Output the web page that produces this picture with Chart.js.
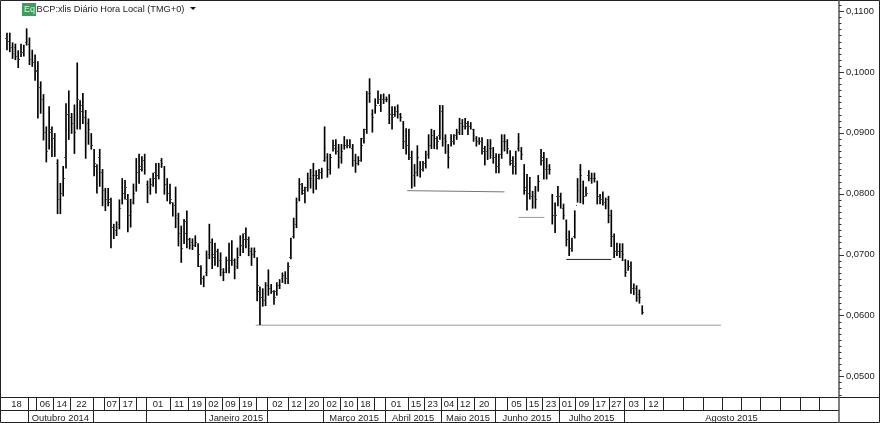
<!DOCTYPE html>
<html>
<head>
<meta charset="utf-8">
<title>BCP:xlis</title>
<script src="https://cdn.jsdelivr.net/npm/chart.js@4"></script>
<style>
    html, body { margin: 0; padding: 0; background: #fff; }
    #wrap { width: 880px; height: 423px; }
</style>
</head>
<body>
<div id="wrap"><canvas id="priceChart" width="880" height="423"></canvas></div>
<script>
// Valores, barra a barra
const highs = [
    0.1064,0.1064,0.1048,0.1046,0.1035,0.1046,0.1044,0.1071,0.1056,0.1036,
    0.1028,0.1017,0.0984,0.0963,0.0910,0.0943,0.0910,0.0899,0.0856,0.0817,
    0.0845,0.0948,0.0969,0.0932,0.0946,0.1015,0.0953,0.0965,0.0937,0.0923,
    0.0899,0.0873,0.0848,0.0873,0.0840,0.0809,0.0809,0.0793,0.0750,0.0754,
    0.0790,0.0825,0.0822,0.0799,0.0791,0.0816,0.0858,0.0865,0.0861,0.0865,
    0.0821,0.0825,0.0834,0.0850,0.0850,0.0858,0.0845,0.0825,0.0816,0.0785,
    0.0811,0.0768,0.0747,0.0758,0.0772,0.0727,0.0726,0.0731,0.0718,0.0682,
    0.0665,0.0706,0.0750,0.0726,0.0719,0.0709,0.0703,0.0677,0.0696,0.0719,
    0.0723,0.0693,0.0711,0.0731,0.0734,0.0744,0.0729,0.0711,0.0711,0.0695,
    0.0647,0.0644,0.0654,0.0675,0.0651,0.0641,0.0654,0.0659,0.0670,0.0672,
    0.0687,0.0727,0.0760,0.0793,0.0825,0.0817,0.0811,0.0834,0.0840,0.0850,
    0.0838,0.0840,0.0842,0.0910,0.0866,0.0865,0.0888,0.0889,0.0881,0.0881,
    0.0894,0.0889,0.0889,0.0881,0.0865,0.0861,0.0891,0.0906,0.0968,0.0989,
    0.0938,0.0956,0.0969,0.0963,0.0964,0.0959,0.0963,0.0943,0.0943,0.0946,
    0.0932,0.0919,0.0907,0.0906,0.0870,0.0848,0.0879,0.0853,0.0853,0.0870,
    0.0897,0.0906,0.0904,0.0894,0.0945,0.0945,0.0897,0.0881,0.0897,0.0897,
    0.0906,0.0924,0.0922,0.0924,0.0919,0.0917,0.0906,0.0894,0.0892,0.0892,
    0.0878,0.0889,0.0889,0.0876,0.0866,0.0865,0.0897,0.0897,0.0889,0.0871,
    0.0861,0.0870,0.0899,0.0876,0.0848,0.0832,0.0827,0.0804,0.0812,0.0830,
    0.0873,0.0868,0.0858,0.0848,0.0799,0.0785,0.0812,0.0801,0.0783,0.0757,
    0.0739,0.0727,0.0772,0.0825,0.0848,0.0821,0.0811,0.0838,0.0834,0.0834,
    0.0821,0.0799,0.0803,0.0793,0.0796,0.0773,0.0734,0.0719,0.0718,0.0718,
    0.0692,0.0690,0.0688,0.0652,0.0649,0.0642,0.0616
];
const lows = [
    0.1036,0.1033,0.1022,0.1020,0.1007,0.1025,0.1026,0.1044,0.1012,0.1009,
    0.0986,0.0924,0.0932,0.0888,0.0852,0.0873,0.0861,0.0861,0.0767,0.0767,
    0.0796,0.0842,0.0889,0.0899,0.0866,0.0906,0.0906,0.0915,0.0858,0.0881,
    0.0873,0.0829,0.0801,0.0812,0.0780,0.0772,0.0780,0.0711,0.0726,0.0731,
    0.0742,0.0783,0.0791,0.0737,0.0745,0.0783,0.0804,0.0817,0.0837,0.0832,
    0.0785,0.0799,0.0812,0.0801,0.0824,0.0843,0.0799,0.0788,0.0783,0.0763,
    0.0744,0.0714,0.0687,0.0718,0.0711,0.0709,0.0708,0.0713,0.0680,0.0651,
    0.0647,0.0665,0.0693,0.0677,0.0682,0.0680,0.0665,0.0657,0.0670,0.0670,
    0.0682,0.0660,0.0677,0.0698,0.0703,0.0711,0.0698,0.0682,0.0695,0.0624,
    0.0585,0.0615,0.0616,0.0633,0.0636,0.0618,0.0633,0.0644,0.0654,0.0652,
    0.0652,0.0693,0.0727,0.0744,0.0788,0.0799,0.0785,0.0804,0.0809,0.0801,
    0.0807,0.0824,0.0825,0.0853,0.0827,0.0832,0.0870,0.0865,0.0842,0.0850,
    0.0873,0.0875,0.0875,0.0845,0.0835,0.0847,0.0853,0.0883,0.0899,0.0950,
    0.0901,0.0932,0.0948,0.0935,0.0948,0.0951,0.0915,0.0906,0.0927,0.0924,
    0.0919,0.0874,0.0865,0.0856,0.0809,0.0812,0.0829,0.0827,0.0837,0.0842,
    0.0858,0.0874,0.0874,0.0873,0.0889,0.0878,0.0866,0.0842,0.0878,0.0881,
    0.0889,0.0897,0.0897,0.0906,0.0897,0.0906,0.0886,0.0878,0.0881,0.0865,
    0.0847,0.0856,0.0858,0.0850,0.0834,0.0834,0.0858,0.0870,0.0866,0.0847,
    0.0832,0.0832,0.0870,0.0856,0.0799,0.0773,0.0791,0.0776,0.0776,0.0804,
    0.0847,0.0824,0.0824,0.0832,0.0750,0.0736,0.0780,0.0776,0.0758,0.0714,
    0.0698,0.0705,0.0727,0.0786,0.0785,0.0783,0.0796,0.0821,0.0817,0.0819,
    0.0783,0.0783,0.0781,0.0775,0.0752,0.0713,0.0695,0.0698,0.0695,0.0690,
    0.0664,0.0674,0.0636,0.0634,0.0623,0.0620,0.0602
];
const opens = [
    0.1055,0.1050,0.1040,0.1040,0.1030,0.1030,0.1032,0.1048,0.1045,0.1030,
    0.1020,0.1000,0.0975,0.0955,0.0900,0.0885,0.0900,0.0890,0.0850,0.0790,
    0.0800,0.0860,0.0930,0.0925,0.0915,0.0915,0.0950,0.0945,0.0925,0.0915,
    0.0895,0.0870,0.0845,0.0860,0.0835,0.0805,0.0800,0.0785,0.0745,0.0740,
    0.0750,0.0790,0.0815,0.0790,0.0765,0.0785,0.0810,0.0835,0.0845,0.0855,
    0.0815,0.0805,0.0815,0.0835,0.0830,0.0855,0.0840,0.0815,0.0805,0.0785,
    0.0780,0.0760,0.0735,0.0720,0.0755,0.0725,0.0720,0.0715,0.0715,0.0680,
    0.0660,0.0670,0.0700,0.0720,0.0700,0.0705,0.0690,0.0670,0.0675,0.0680,
    0.0690,0.0690,0.0680,0.0700,0.0715,0.0735,0.0725,0.0705,0.0700,0.0690,
    0.0640,0.0630,0.0625,0.0650,0.0645,0.0635,0.0640,0.0650,0.0660,0.0665,
    0.0660,0.0695,0.0730,0.0750,0.0790,0.0815,0.0800,0.0810,0.0825,0.0830,
    0.0825,0.0830,0.0835,0.0855,0.0860,0.0850,0.0875,0.0880,0.0870,0.0860,
    0.0880,0.0880,0.0880,0.0875,0.0855,0.0850,0.0860,0.0890,0.0905,0.0965,
    0.0930,0.0935,0.0955,0.0945,0.0955,0.0955,0.0950,0.0930,0.0930,0.0935,
    0.0930,0.0915,0.0885,0.0880,0.0860,0.0830,0.0835,0.0850,0.0840,0.0850,
    0.0865,0.0880,0.0895,0.0885,0.0895,0.0935,0.0890,0.0870,0.0880,0.0885,
    0.0895,0.0900,0.0915,0.0910,0.0910,0.0910,0.0905,0.0890,0.0885,0.0885,
    0.0870,0.0870,0.0875,0.0870,0.0855,0.0845,0.0865,0.0885,0.0885,0.0865,
    0.0850,0.0845,0.0875,0.0870,0.0845,0.0805,0.0800,0.0795,0.0795,0.0810,
    0.0865,0.0855,0.0840,0.0840,0.0795,0.0770,0.0795,0.0795,0.0775,0.0755,
    0.0735,0.0710,0.0730,0.0780,0.0840,0.0800,0.0800,0.0830,0.0825,0.0825,
    0.0810,0.0790,0.0790,0.0785,0.0790,0.0765,0.0730,0.0705,0.0705,0.0705,
    0.0690,0.0675,0.0680,0.0645,0.0645,0.0635,0.0610
];
const closes = [
    0.1050,0.1048,0.1030,0.1026,0.1020,0.1032,0.1038,0.1050,0.1020,0.1015,
    0.1002,0.0975,0.0955,0.0900,0.0870,0.0905,0.0885,0.0870,0.0790,0.0800,
    0.0825,0.0925,0.0910,0.0915,0.0900,0.0955,0.0935,0.0925,0.0900,0.0905,
    0.0880,0.0850,0.0825,0.0835,0.0805,0.0790,0.0790,0.0725,0.0735,0.0745,
    0.0775,0.0800,0.0810,0.0760,0.0770,0.0800,0.0835,0.0840,0.0850,0.0840,
    0.0810,0.0815,0.0825,0.0825,0.0845,0.0850,0.0815,0.0800,0.0790,0.0775,
    0.0765,0.0735,0.0710,0.0735,0.0725,0.0715,0.0715,0.0720,0.0700,0.0660,
    0.0660,0.0695,0.0720,0.0695,0.0705,0.0690,0.0675,0.0670,0.0690,0.0690,
    0.0705,0.0675,0.0695,0.0715,0.0725,0.0725,0.0710,0.0700,0.0705,0.0650,
    0.0625,0.0625,0.0650,0.0645,0.0640,0.0630,0.0645,0.0650,0.0665,0.0660,
    0.0680,0.0710,0.0745,0.0785,0.0815,0.0805,0.0800,0.0820,0.0825,0.0830,
    0.0825,0.0830,0.0835,0.0875,0.0840,0.0860,0.0875,0.0880,0.0860,0.0870,
    0.0880,0.0880,0.0880,0.0855,0.0850,0.0855,0.0880,0.0900,0.0950,0.0965,
    0.0925,0.0945,0.0955,0.0945,0.0955,0.0955,0.0930,0.0925,0.0935,0.0935,
    0.0925,0.0885,0.0880,0.0870,0.0815,0.0835,0.0860,0.0840,0.0845,0.0860,
    0.0880,0.0895,0.0890,0.0885,0.0935,0.0890,0.0885,0.0860,0.0885,0.0890,
    0.0900,0.0915,0.0910,0.0915,0.0905,0.0910,0.0895,0.0885,0.0885,0.0875,
    0.0865,0.0880,0.0875,0.0860,0.0845,0.0845,0.0890,0.0885,0.0875,0.0855,
    0.0840,0.0850,0.0885,0.0865,0.0810,0.0800,0.0805,0.0785,0.0790,0.0820,
    0.0860,0.0840,0.0845,0.0840,0.0765,0.0765,0.0800,0.0790,0.0765,0.0725,
    0.0710,0.0725,0.0765,0.0805,0.0830,0.0795,0.0800,0.0830,0.0825,0.0825,
    0.0795,0.0790,0.0790,0.0780,0.0765,0.0730,0.0705,0.0710,0.0705,0.0700,
    0.0670,0.0680,0.0645,0.0645,0.0630,0.0630,0.0605
];

// Linhas de suporte desenhadas no gráfico: [barra, valor]
const supportMain = [[88.5, 0.0584], [254, 0.0584]];
const supportApr = [[142.4, 0.0805], [177, 0.0803]];
const supportJun = [[182, 0.0761], [191.2, 0.0761]];
const supportJul = [[199, 0.0692], [215, 0.0692]];

// Eixo do tempo: início de cada célula (em barras) e respetivo texto
const dayEdges = [-0.7, 7.5, 10.5, 16.5, 22.5, 30.5, 34.5, 40, 46, 49.5, 58, 64.5, 70.5, 76.5, 82.5, 88.5, 92.5, 100, 106, 112.5,
    118.5, 124.5, 130.5, 134.5, 142.5, 148.5, 154.5, 160, 166, 173.5, 178, 184.5, 190.5, 196.5, 202, 208.5, 214, 219.5, 226.5,
    233.5, 240.5, 247.5, 254.5, 261, 268, 275, 282, 289, 296];
const dayLabels = ['18', '', '06', '14', '22', '', '07', '17', '', '01', '11', '19', '02', '09', '19', '', '02', '12', '20',
    '02', '10', '18', '', '01', '15', '23', '04', '12', '20', '', '05', '15', '23', '01', '09', '17', '27', '03', '12',
    '', '', '', '', '', '', '', '', ''];
const monthEdges = [-0.7, 7.5, 30.5, 49.5, 70.5, 92.5, 112.5, 134.5, 154.5, 173.5, 196.5, 219.5, 296];
const monthLabels = ['', 'Outubro 2014', '', '', 'Janeiro 2015', '', 'Março 2015', 'Abril 2015', 'Maio 2015', 'Junho 2015', 'Julho 2015', 'Agosto 2015'];

const axisFont = { family: '"Liberation Sans", Arial, sans-serif', size: 9.4 };
const inkColor = '#222';

// marca de abertura/fecho: 1 px para fora da barra
function tickImage(side) {
    const c = document.createElement('canvas');
    c.width = 3;
    c.height = 1;
    const g = c.getContext('2d');
    g.fillStyle = '#555';
    g.fillRect(side === 'left' ? 0 : 2, 0, 1, 1);
    return c;
}

function centres(edges) {
    return edges.slice(0, -1).map((e, i) => (e + edges[i + 1]) / 2);
}

function priceLabel(v) {
    return v.toFixed(4).replace('.', ',');
}

// sem margem extra para os textos das pontas
function noLabelPadding(s) {
    s.paddingLeft = 0;
    s.paddingRight = 0;
    s.paddingTop = 0;
    s.paddingBottom = 0;
}

function supportDataset(points, color) {
    return {
        type: 'line',
        data: points.map(p => ({ x: p[0], y: p[1] })),
        borderColor: color,
        borderWidth: 1,
        pointRadius: 0,
        order: 3
    };
}

// Moldura, células do eixo do tempo, marcas do eixo de preços e cabeçalho
const framePlugin = {
    id: 'frame',
    afterDraw(chart) {
        const ctx = chart.ctx;
        const { x, x2, y } = chart.scales;
        const W = chart.width, H = chart.height;
        ctx.save();
        ctx.strokeStyle = '#222';
        ctx.lineWidth = 1;
        ctx.beginPath();
        ctx.rect(0.5, 0.5, W - 1, H - 1);
        ctx.moveTo(0, Math.round(y.bottom) + 0.5);
        ctx.lineTo(W, Math.round(y.bottom) + 0.5);
        ctx.moveTo(0, Math.round(x.bottom) + 0.5);
        ctx.lineTo(Math.round(y.left), Math.round(x.bottom) + 0.5);
        dayEdges.slice(1, -1).forEach(e => {
            const px = Math.round(x.getPixelForValue(e)) + 0.5;
            ctx.moveTo(px, x.top);
            ctx.lineTo(px, x.bottom);
        });
        monthEdges.slice(1, -1).forEach(e => {
            const px = Math.round(x2.getPixelForValue(e)) + 0.5;
            ctx.moveTo(px, x2.top);
            ctx.lineTo(px, x2.bottom);
        });
        ctx.stroke();

        // eixo de preços
        ctx.strokeStyle = '#555';
        ctx.lineWidth = 1.5;
        ctx.beginPath();
        ctx.moveTo(y.left, 0);
        ctx.lineTo(y.left, H);
        ctx.stroke();
        ctx.strokeStyle = '#333';
        ctx.lineWidth = 1;
        ctx.beginPath();
        y.ticks.forEach(t => {
            const py = Math.round(y.getPixelForValue(t.value)) + 0.5;
            ctx.moveTo(y.left, py);
            ctx.lineTo(y.left + (t.label ? 5 : 2.5), py);
        });
        ctx.stroke();

        // cabeçalho
        ctx.fillStyle = '#3b9e5f';
        ctx.fillRect(22, 3, 14, 13);
        ctx.fillStyle = '#d8f0df';
        ctx.font = '9px "Liberation Sans", Arial, sans-serif';
        ctx.textBaseline = 'middle';
        ctx.fillText('Eq', 24, 10);
        ctx.fillStyle = inkColor;
        ctx.font = '9.2px "Liberation Sans", Arial, sans-serif';
        ctx.fillText('BCP:xlis Diário Hora Local (TMG+0)', 36.5, 9);
        ctx.fillStyle = '#111';
        ctx.beginPath();
        ctx.moveTo(190, 7);
        ctx.lineTo(196, 7);
        ctx.lineTo(193, 10);
        ctx.closePath();
        ctx.fill();
        ctx.restore();
    }
};

function initChart() {
    const ctx = document.getElementById('priceChart').getContext('2d');
    new Chart(ctx, {
        type: 'bar',
        data: {
            datasets: [
                {
                    // máximo-mínimo de cada sessão
                    data: highs.map((h, i) => ({ x: i, y: [lows[i], h] })),
                    backgroundColor: '#000',
                    barThickness: 1,
                    order: 2
                },
                {
                    type: 'line',
                    data: opens.map((v, i) => ({ x: i, y: v })),
                    showLine: false,
                    pointStyle: tickImage('left'),
                    order: 1
                },
                {
                    type: 'line',
                    data: closes.map((v, i) => ({ x: i, y: v })),
                    showLine: false,
                    pointStyle: tickImage('right'),
                    order: 1
                },
                supportDataset(supportMain, '#9a9a9a'),
                supportDataset(supportApr, '#777'),
                supportDataset(supportJun, '#999'),
                supportDataset(supportJul, '#222')
            ]
        },
        options: {
            responsive: false,
            animation: false,
            devicePixelRatio: 1,
            layout: { padding: { left: 1, top: 1, right: 0, bottom: 1 } },
            plugins: { legend: { display: false }, tooltip: { enabled: false } },
            scales: {
                x: {
                    type: 'linear',
                    position: 'bottom',
                    weight: 0,
                    min: -0.7,
                    max: 296,
                    offset: false,
                    grid: { display: false, drawTicks: false },
                    border: { display: false },
                    afterFit: s => { s.height = 13; noLabelPadding(s); },
                    // primeira marca vazia para o texto "18" não empurrar o eixo
                    afterBuildTicks: s => { s.ticks = [dayEdges[0], ...centres(dayEdges)].map(v => ({ value: v })); },
                    ticks: {
                        autoSkip: false,
                        maxRotation: 0,
                        padding: 2,
                        color: inkColor,
                        font: axisFont,
                        callback: (v, i) => i === 0 ? '' : dayLabels[i - 1]
                    }
                },
                x2: {
                    type: 'linear',
                    position: 'bottom',
                    weight: 1,
                    min: -0.7,
                    max: 296,
                    offset: false,
                    grid: { display: false, drawTicks: false },
                    border: { display: false },
                    afterFit: s => { s.height = 12; noLabelPadding(s); },
                    afterBuildTicks: s => { s.ticks = centres(monthEdges).map(v => ({ value: v })); },
                    ticks: {
                        autoSkip: false,
                        maxRotation: 0,
                        padding: 3,
                        color: inkColor,
                        font: axisFont,
                        callback: (v, i) => monthLabels[i]
                    }
                },
                y: {
                    position: 'right',
                    min: 0.0466,
                    max: 0.1110,
                    grid: { display: false, drawTicks: false },
                    border: { display: false },
                    afterFit: s => { s.width = 41; noLabelPadding(s); },
                    ticks: {
                        stepSize: 0.001,
                        autoSkip: false,
                        includeBounds: false,
                        padding: 7,
                        color: inkColor,
                        font: axisFont,
                        callback: v => Math.round(v * 10000) % 100 === 0 ? priceLabel(v) : ''
                    }
                }
            }
        },
        plugins: [framePlugin]
    });
}

document.addEventListener('DOMContentLoaded', initChart);
</script>
</body>
</html>
